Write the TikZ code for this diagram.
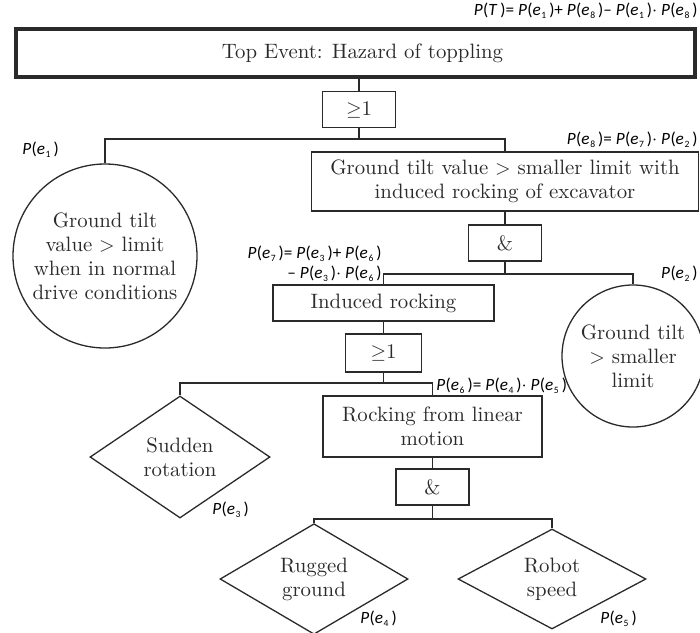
\documentclass[tikz,border=0pt]{standalone}
\usepackage{fontspec}
\usepackage{graphicx}
\usetikzlibrary{shapes.geometric}
\newfontfamily\labfont{Carlito}
\definecolor{ink}{HTML}{2A2A2A}

% probability labels: P(x) in sans italic, small upright subscripts
\newcommand\Pof[1]{\textit{P}\kern0.2pt(\textit{#1}\kern1.5pt)}
\newcommand\sub[1]{\kern0.3pt\raisebox{-0.35ex}{\fontsize{4.8}{5}\selectfont\textup{#1}}}
\newcommand\ev[1]{e\sub{#1}}
\newcommand\gatetext[1]{\raisebox{-3.2pt}{#1}}
\newcommand\opminus{\textendash}

\begin{document}
\begin{tikzpicture}[x=0.5pt,y=-0.5pt,
  wire/.style={draw=ink, line width=0.65pt},
  maintext/.style={font=\fontsize{10.4}{12}\selectfont, text=ink, align=center, inner sep=0pt},
  evbox/.style={maintext, rectangle, draw=ink, line width=0.65pt},
  gatebox/.style={evbox, minimum width=36.5pt, minimum height=18pt},
  basicev/.style={maintext, circle, draw=ink, line width=0.65pt},
  undevev/.style={maintext, diamond, draw=ink, line width=0.65pt},
  plab/.style={font=\labfont\fontsize{8.6}{8.2}\selectfont, inner sep=0pt, text=black}
]
\useasboundingbox (0,0) rectangle (700,632);

% top event
\node[evbox, line width=2pt, minimum width=339.5pt, minimum height=24pt] (top) at (355.5,53)
  {\hspace*{7pt}Top Event: Hazard of toppling};
\node[gatebox] (g1) at (359,109.5) {\gatetext{$\geq$1}};

% first level
\node[basicev, minimum size=92pt] (e1) at (105,256)
  {Ground tilt\\ value $>$ limit\\ when in normal\\ drive conditions};
\node[evbox, minimum width=193.5pt, minimum height=29.5pt] (e8) at (505,181.5)
  {Ground tilt value $>$ smaller limit with\\ induced rocking of excavator};
\node[gatebox] (g2) at (505,243) {\gatetext{\&}};

% second level
\node[evbox, minimum width=110.5pt, minimum height=18pt] (e7) at (383.5,303) {Induced rocking};
\node[basicev, minimum size=71pt] (e2) at (633,356) {Ground tilt\\ $>$ smaller\\ limit};
\node[gatebox, minimum width=38pt, minimum height=19pt] (g3) at (383.5,353) {\gatetext{$\geq$1}};

% third level
\node[undevev, minimum width=90pt, minimum height=61pt] (e3) at (180,457) {Sudden\\ rotation};
\node[evbox, minimum width=109.5pt, minimum height=30.5pt] (e6) at (432.5,426.5)
  {Rocking from linear\\ motion};
\node[gatebox] (g4) at (432.5,487) {\gatetext{\&}};

% bottom level
\node[undevev, minimum width=94pt, minimum height=50pt] (e4) at (314,579) {Rugged\\ ground};
\node[undevev, minimum width=94pt, minimum height=50pt] (e5) at (552,579) {Robot\\ speed};

% junction points of the gate outputs
\coordinate (j1) at (359,139);
\coordinate (j2) at (505,274);
\coordinate (j3) at (383.5,383);
\coordinate (j4) at (432.5,519);

% connectors
\draw[wire] (g1.north) -- (g1.north |- top.south);
\draw[wire] (g1.south) -- (j1);
\draw[wire] (e1.north) |- (j1) -| (e8.north);
\draw[wire] (e8.south) -- (g2.north);
\draw[wire] (g2.south) -- (j2);
\draw[wire] (e7.north) |- (j2) -| (e2.north);
\draw[wire] (e7.south) -- (g3.north);
\draw[wire] (g3.south) -- (j3);
\draw[wire] (e3.north) |- (j3) -| (e6.north);
\draw[wire] (e6.south) -- (g4.north);
\draw[wire] (g4.south) -- (j4);
\draw[wire] (e4.north) |- (j4) -| (e5.north);

% probabilities
\node[plab, anchor=east] (pT) at (698,11)
  {\Pof{T}= \Pof{\ev1}+ \Pof{\ev8}\opminus\ \Pof{\ev1}$\cdot$ \Pof{\ev8}};
\node[plab, anchor=west] (p1) at (22,150) {\Pof{\ev1}};
\node[plab, anchor=east] (p8) at (698,140) {\Pof{\ev8}= \Pof{\ev7}$\cdot$ \Pof{\ev2}};
\node[plab, anchor=east] (p7) at (382,253.5) {\Pof{\ev7}= \Pof{\ev3}+ \Pof{\ev6}};
\node[plab, anchor=east] (p7b) at (382,273.5) {\opminus\ \Pof{\ev3}$\cdot$ \Pof{\ev6}};
\node[plab, anchor=east] (p2) at (698,274) {\Pof{\ev2}};
\node[plab, anchor=west] (p6) at (436,386) {\Pof{\ev6}= \Pof{\ev4}$\cdot$ \Pof{\ev5}};
\node[plab, anchor=west] (p3) at (212,510) {\Pof{\ev3}};
\node[plab, anchor=west] (p4) at (360,619) {\Pof{\ev4}};
\node[plab, anchor=west] (p5) at (600,619) {\Pof{\ev5}};
\end{tikzpicture}
\end{document}
